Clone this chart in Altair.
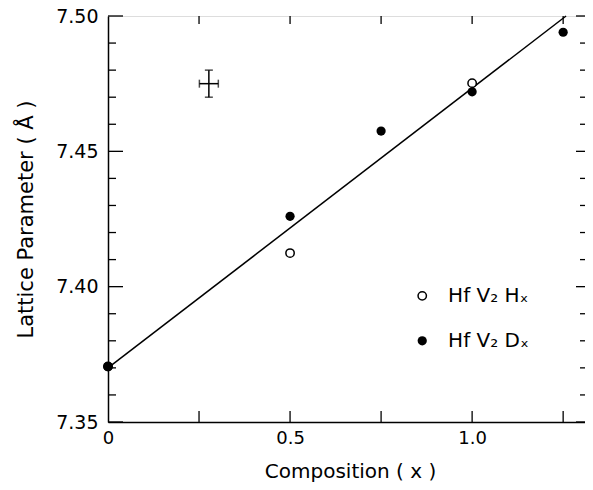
import altair as alt
import pandas as pd

# ---- data ----
h_x = [0.0, 0.5, 1.0]
h_y = [7.3705, 7.4124, 7.4752]
d_x = [0.0, 0.5, 0.75, 1.0, 1.25]
d_y = [7.3705, 7.4260, 7.4575, 7.4720, 7.4940]
fit_x = [0.0, 1.258]
fit_y = [7.370, 7.500]
err_x, err_y = 0.277, 7.475
err_dx, err_dy = 0.026, 0.005
y_major = [7.35, 7.40, 7.45, 7.50]
y_minor = [7.36, 7.37, 7.38, 7.39, 7.41, 7.42, 7.43, 7.44, 7.46, 7.47, 7.48, 7.49]
x_ticks = [0.25, 0.5, 0.75, 1.0, 1.25]
x_label_values = [0.0, 0.5, 1.0]
x_max = 1.31
legend_labels = ["Hf V\u2082 H\u2093", "Hf V\u2082 D\u2093"]
legend_x = 0.863
legend_text_x = 0.934
legend_y = [7.3966, 7.3800]

W, H = 477, 406
FONT = "DejaVu Sans"

xs = alt.Scale(domain=[0, x_max], nice=False, zero=False)
ys = alt.Scale(domain=[7.35, 7.50], nice=False, zero=False)

xaxis = alt.Axis(values=x_label_values, ticks=False, tickSize=0, grid=False,
                 labelExpr="datum.value == 0 ? '0' : format(datum.value, '.1f')",
                 labelFlush=False, labelPadding=7, labelFont=FONT, labelFontSize=18,
                 labelColor="black", title="Composition ( x )", titleFont=FONT,
                 titleFontSize=20, titleFontWeight="normal", titleColor="black",
                 titleX=242, titleY=49, titleBaseline="middle", domainColor="black", domainWidth=1.5)
yaxis = alt.Axis(values=y_major, ticks=False, tickSize=0, grid=False, format=".2f",
                 labelPadding=10, labelFont=FONT, labelFontSize=19, labelColor="black",
                 labelFlush=False, title="Lattice Parameter ( \u00c5 )", titleFont=FONT,
                 titleFontSize=21, titleFontWeight="normal", titleColor="black",
                 titleX=-82, titleY=H / 2, titleAngle=-90, titleBaseline="middle",
                 domainColor="black", domainWidth=1.5)

X = lambda f="x": alt.X(f, type="quantitative", scale=xs, axis=xaxis)
Y = lambda f="y": alt.Y(f, type="quantitative", scale=ys, axis=yaxis)

fit_df = pd.DataFrame({"x": fit_x, "y": fit_y})
h_df = pd.DataFrame({"x": h_x, "y": h_y})
d_df = pd.DataFrame({"x": d_x, "y": d_y})

line = alt.Chart(fit_df).mark_line(color="black", strokeWidth=1.5).encode(x=X(), y=Y())
d_pts = alt.Chart(d_df).mark_point(filled=True, color="black", size=85, opacity=1).encode(x=X(), y=Y())
h_pts = alt.Chart(h_df).mark_point(filled=True, fill="white", stroke="black", strokeWidth=1.5,
                                    size=70, opacity=1).encode(x=X(), y=Y())
# point at x=0 is shared: draw D on top there (appears filled)
d0 = alt.Chart(d_df[d_df.x == 0]).mark_point(filled=True, color="black", size=85, opacity=1).encode(x=X(), y=Y())

# error cross
ev = pd.DataFrame({"x": [err_x], "y": [err_y - err_dy], "y2": [err_y + err_dy]})
eh = pd.DataFrame({"x": [err_x - err_dx], "x2": [err_x + err_dx], "y": [err_y]})
ecap_h = pd.DataFrame({"x": [err_x, err_x], "y": [err_y - err_dy, err_y + err_dy]})
ecap_v = pd.DataFrame({"x": [err_x - err_dx, err_x + err_dx], "y": [err_y, err_y]})
e1 = alt.Chart(ev).mark_rule(color="black", strokeWidth=1.5).encode(x=X(), y=Y(), y2="y2")
e2 = alt.Chart(eh).mark_rule(color="black", strokeWidth=1.5).encode(x=X(), x2="x2", y=Y())
e3 = alt.Chart(ecap_h).mark_tick(orient="horizontal", color="black", size=8, thickness=1.5).encode(x=X(), y=Y())
e4 = alt.Chart(ecap_v).mark_tick(orient="vertical", color="black", size=8, thickness=1.5).encode(x=X(), y=Y())

# legend inside the plot
leg_df = pd.DataFrame({"x": [legend_x] * 2, "tx": [legend_text_x] * 2, "y": legend_y,
                       "label": legend_labels, "kind": ["H", "D"]})
leg_h = alt.Chart(leg_df[leg_df.kind == "H"]).mark_point(filled=True, fill="white", stroke="black",
                                                          strokeWidth=1.5, size=70, opacity=1).encode(x=X(), y=Y())
leg_d = alt.Chart(leg_df[leg_df.kind == "D"]).mark_point(filled=True, color="black", size=85,
                                                          opacity=1).encode(x=X(), y=Y())
leg_t = alt.Chart(leg_df).mark_text(align="left", baseline="middle", font=FONT, fontSize=20,
                                     color="black").encode(x=X("tx"), y=Y(), text="label")

# inward ticks
ymaj_df = pd.DataFrame({"y": y_major})
ymin_df = pd.DataFrame({"y": y_minor})
xt_df = pd.DataFrame({"x": x_ticks})
tl_maj = alt.Chart(ymaj_df).mark_rule(color="black", strokeWidth=1.3).encode(y=Y(), x=alt.value(0), x2=alt.value(15))
tl_min = alt.Chart(ymin_df).mark_rule(color="black", strokeWidth=1.3).encode(y=Y(), x=alt.value(0), x2=alt.value(8))
tr_maj = alt.Chart(ymaj_df).mark_rule(color="black", strokeWidth=1.3).encode(y=Y(), x=alt.value(W), x2=alt.value(W - 9))
tr_min = alt.Chart(ymin_df).mark_rule(color="black", strokeWidth=1.3).encode(y=Y(), x=alt.value(W), x2=alt.value(W - 5))
tb = alt.Chart(xt_df).mark_rule(color="black", strokeWidth=1.3).encode(x=X(), y=alt.value(H), y2=alt.value(H - 11))
tt = alt.Chart(xt_df).mark_rule(color="black", strokeWidth=1.3).encode(x=X(), y=alt.value(0), y2=alt.value(8))

chart = alt.layer(
    tl_maj, tl_min, tr_maj, tr_min, tb, tt,
    line, h_pts, d_pts, d0, e1, e2, e3, e4, leg_h, leg_d, leg_t
).properties(
    width=W, height=H,
    autosize=alt.AutoSizeParams(type="none"),
    padding={"left": 100, "top": 8, "right": 0, "bottom": 60},
).configure_view(
    stroke="black", strokeWidth=1.5
).configure(background="white")

chart.save("out.html", embed_options={"renderer": "svg", "actions": False})
